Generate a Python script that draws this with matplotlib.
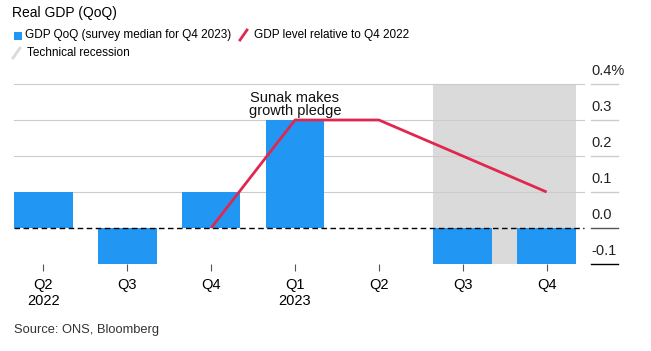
import matplotlib.pyplot as plt
from matplotlib.lines import Line2D
from matplotlib.patches import Rectangle

plt.rcParams['font.family'] = ['Liberation Sans', 'DejaVu Sans']

# 데이터
quarters = ['Q2\n2022', 'Q3', 'Q4', 'Q1\n2023', 'Q2', 'Q3', 'Q4']
gdp_qoq = [0.1, -0.1, 0.1, 0.3, 0.0, -0.1, -0.1]
level_idx = [2, 3, 4, 5, 6]
gdp_level = [0.0, 0.3, 0.3, 0.2, 0.1]
recession_idx = [5, 6]
y_ticks = [-0.1, 0.0, 0.1, 0.2, 0.3, 0.4]
y_labels = ['-0.1', '0.0', '0.1', '0.2', '0.3', '0.4%']

blue = '#2196F3'
red = '#E0284F'
grey = '#DADADA'
w = 0.7

fig = plt.figure(figsize=(6.51, 3.51), dpi=100)
ax = fig.add_axes([14/651, 1-264/351, (576-14)/651, (264-84)/351])
x = list(range(len(quarters)))

# 리세션 구간 음영
ax.add_patch(Rectangle((recession_idx[0]-w/2, y_ticks[0]),
                       recession_idx[-1]-recession_idx[0]+w, y_ticks[-1]-y_ticks[0],
                       color=grey, lw=0, zorder=0))

# 그리드 + 오른쪽 라벨
for v, lab in zip(y_ticks, y_labels):
    if v not in (0.0, -0.1):
        ax.plot([-0.35, 6.45], [v, v], color='#cccccc', lw=0.8, zorder=0.5, clip_on=False)
    segc = '#cccccc' if v > 0 else ('#555555' if v == 0 else 'black')
    ax.plot([6.53, 6.85], [v, v], color=segc, lw=1.0, clip_on=False)
    ax.text(6.53, v + 0.017, lab, fontsize=10.5, ha='left', va='bottom', color='#222222')

ax.bar(x, gdp_qoq, width=w, color=blue, zorder=2)
ax.plot(level_idx, gdp_level, color=red, lw=2, zorder=3, solid_capstyle='butt')
ax.plot([-0.35, 6.45], [0, 0], color='black', lw=1, ls=(0, (4, 2.5)), zorder=4, clip_on=False)

ax.text(3, 0.305, 'Sunak makes\ngrowth pledge', ha='center', va='bottom',
        fontsize=10.5, linespacing=0.9, color='#111111')

ax.set_xlim(-0.35, 6.35)
ax.set_ylim(-0.1, 0.4)
ax.set_xticks(x)
ax.set_xticklabels(quarters, fontsize=10.5, linespacing=1.2)
ax.tick_params(axis='x', length=5, color='#555555', pad=5)
ax.set_yticks([])
for s in ax.spines.values():
    s.set_visible(False)

# 제목, 범례, 출처
fig.text(12/651, 1-13/351, 'Real GDP (QoQ)', fontsize=10, va='center', ha='left')
fig.add_artist(Rectangle((14/651, 1-40/351), 8/651, 8/351, color=blue, lw=0,
                         transform=fig.transFigure))
fig.text(25/651, 1-35/351, 'GDP QoQ (survey median for Q4 2023)', fontsize=8.5, va='center')
fig.add_artist(Line2D([240/651, 247/651], [1-40/351, 1-30/351], color=red, lw=2,
                      transform=fig.transFigure))
fig.text(254/651, 1-35/351, 'GDP level relative to Q4 2022', fontsize=8.5, va='center')
fig.add_artist(Line2D([13/651, 20/651], [1-58/351, 1-48/351], color=grey, lw=2,
                      transform=fig.transFigure))
fig.text(27/651, 1-53/351, 'Technical recession', fontsize=8.5, va='center')
fig.text(14/651, 1-330/351, 'Source: ONS, Bloomberg', fontsize=9.3, va='center', color='#333333')

plt.savefig('out.png', dpi=100)
